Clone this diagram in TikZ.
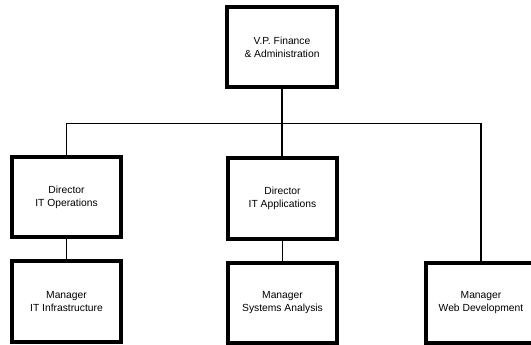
\documentclass[tikz,border=0pt]{standalone}
\usepackage{fontspec}
\setmainfont{Liberation Sans}
\begin{document}
\begin{tikzpicture}[x=1pt,y=-1pt,
  orgbox/.style={draw=black, line width=3.6pt, fill=white, rectangle,
    minimum width=109.5pt, minimum height=80.5pt, inner sep=0pt,
    align=center, font=\fontsize{10.3}{13}\selectfont},
  link/.style={draw=black, line width=1.2pt}]
  \useasboundingbox (0,0) rectangle (531,345);
  \clip (0,0) rectangle (531,345);

  % Reporting lines (drawn first so the boxes sit on top)
  \coordinate (bus) at (0,123.5);
  \coordinate (vpFoot)  at (282,89);
  \coordinate (opsHead) at (66.5,157);
  \coordinate (webHead) at (481,263);
  \coordinate (appsHead) at (282,159);
  \draw[link] (vpFoot) -- (appsHead);
  \draw[link] (opsHead) -- (opsHead |- bus) -- (webHead |- bus) -- (webHead);

  % Org chart boxes
  \node[orgbox] (vp)      at (282,47)      {V.P. Finance\\\& Administration};
  \node[orgbox] (dirOps)  at (66.5,197)    {Director\\IT Operations};
  \node[orgbox] (dirApps) at (282.5,198.5) {Director\\IT Applications};
  \node[orgbox] (mgrInf)  at (66.5,301.5)  {Manager\\IT Infrastructure};
  \node[orgbox] (mgrSys)  at (282.5,303)   {Manager\\Systems Analysis};
  \node[orgbox] (mgrWeb)  at (481,303)     {Manager\\Web Development};

  % Director to manager lines
  \draw[link] (dirOps.south) -- (mgrInf.north);
  \draw[link] (dirApps.south) -- (mgrSys.north);
\end{tikzpicture}
\end{document}
